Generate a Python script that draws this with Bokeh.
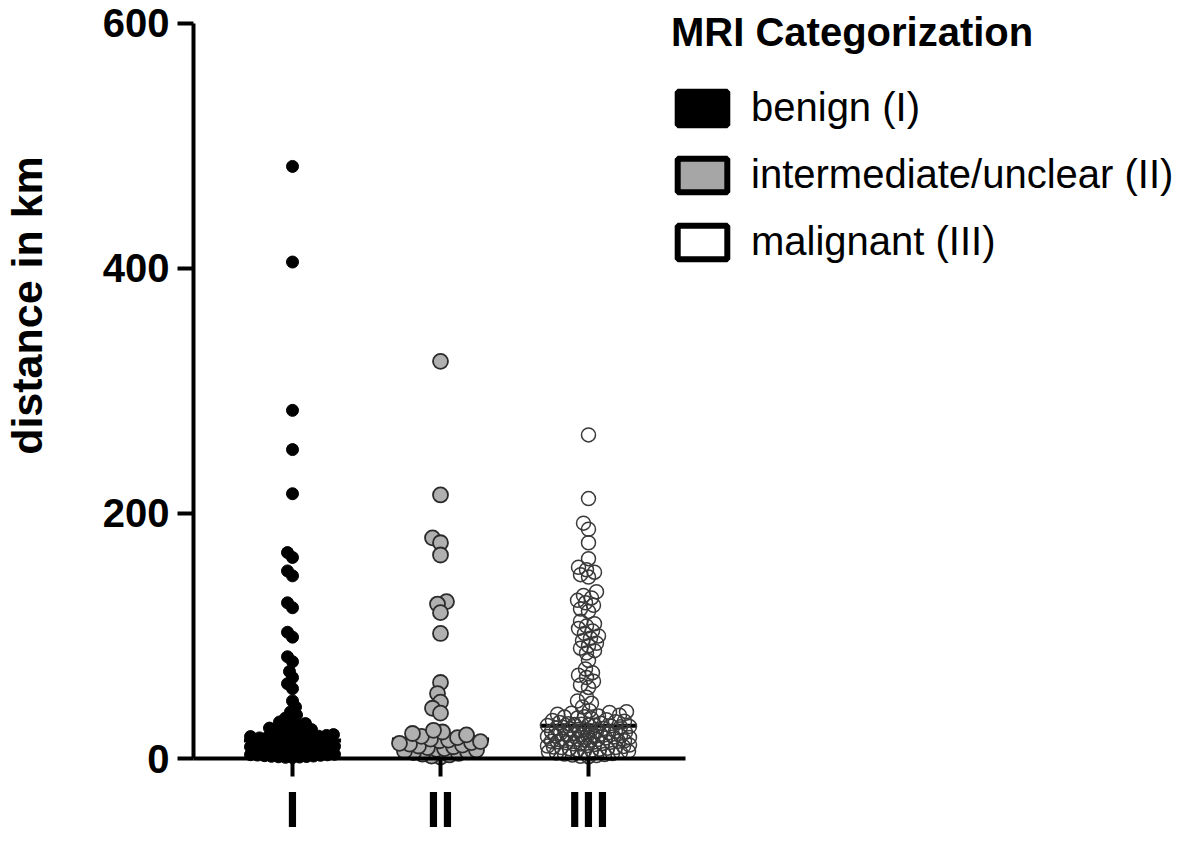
import numpy as np
from bokeh.plotting import figure
from bokeh.models import Range1d, FixedTicker, Legend, LegendItem, Label, ColumnDataSource
from bokeh.embed import file_html
from bokeh.resources import INLINE

# ---------------- data (km) ----------------
categories = ["I", "II", "III"]
legend_labels = ["benign (I)", "intermediate/unclear (II)", "malignant (III)"]

benign = [483, 405, 284, 252, 216, 168, 164, 153, 149, 127,
          123, 103, 99, 83, 79, 71, 66, 61, 57, 47,
          42, 38, 35.5, 33, 31.2, 29.8, 28.5, 27.1, 26.3, 25.4,
          24.8, 23.6, 22.9, 22.1, 21.4, 20.7, 20.1, 19.5, 18.8, 18.2,
          17.9, 17.3, 16.8, 16.4, 16.0, 15.7, 15.3, 15.0, 14.8, 14.7,
          14.5, 14.1, 13.8, 13.4, 13.0, 12.7, 12.3, 12.0, 11.6, 11.3,
          10.9, 10.6, 10.2, 9.9, 9.5, 9.2, 8.8, 8.5, 8.1, 7.8,
          7.4, 7.1, 6.9, 6.5, 6.2, 5.8, 5.5, 5.2, 4.9, 4.6,
          4.3, 4.0, 3.7, 3.4, 3.1, 2.8, 2.6, 2.3, 2.0, 1.8,
          1.6, 1.4, 1.2, 1.0, 0.8, 6.0, 8.0, 10.0, 3.0, 5.0]

intermediate = [324, 215, 180, 176, 166, 128, 126, 119, 102, 62,
                53, 46, 41, 37,
                1.2, 2.0, 2.9, 3.5, 4.1, 4.8, 5.5, 6.0, 6.8, 7.4,
                8.1, 8.9, 9.6, 10.2, 10.9, 11.7, 12.4, 13.0, 13.8, 14.5,
                15.0, 15.8, 17.0, 18.1, 19.3, 20.4, 21.6, 23.0]

malignant = [264, 212, 192, 187, 176, 163, 156, 154, 152, 150,
             148, 136, 133, 131, 129, 127, 125, 122, 120, 112,
             110, 108, 106, 104, 102, 100, 98, 96, 94, 92,
             90, 88, 86, 80, 73, 70, 68, 66, 63, 60,
             58, 50, 47, 45, 42, 39,
             38.2, 37.0, 36.1, 35.3, 34.6, 33.8, 33.0, 32.4, 31.7, 31.0,
             30.4, 29.9, 29.3, 28.8, 28.4, 28.0, 27.7, 27.4, 27.2, 27.0,
             37.5, 34.0,
             26.6, 26.2, 25.8, 25.3, 24.9, 24.5, 24.0, 23.6, 23.2, 22.7,
             22.3, 21.9, 21.4, 21.0, 20.6, 20.1, 19.7, 19.3, 18.8, 18.4,
             18.0, 17.5, 17.1, 16.7, 16.2, 15.8, 15.4, 14.9, 14.5, 14.1,
             13.6, 13.2, 12.8, 12.3, 11.9, 11.5, 11.0, 10.6, 10.2, 9.7,
             9.3, 8.9, 8.4, 8.0, 7.6, 7.1, 6.7, 6.3, 5.8, 5.4,
             5.0, 4.5, 4.1, 3.7, 3.2, 2.8, 2.4, 1.9, 1.5,
             20.0, 16.0, 12.0, 19.0, 15.0, 9.0, 22.0, 14.0, 18.5]

y_ticks = [0, 200, 400, 600]

# ---------------- layout ----------------
W, H = 1180, 841
PX_X = 148.0                    # px per category step
Y_ZERO, Y_TOP = 758.0, 22.5     # pixel rows of 0 km and 600 km
PX_Y = (Y_ZERO - Y_TOP) / 600.0
XL = 1 - 292 / PX_X
XR = XL + W / PX_X
YT = 600 + Y_TOP / PX_Y
YB = -(H - Y_ZERO) / PX_Y
AXIS_X = 1 - (292 - 193) / PX_X
AXIS_XEND = 3 + (685 - 588) / PX_X


def swarm(vals, min_dist, half_width):
    ys = np.asarray(vals, dtype=float) * PX_Y
    order = np.argsort(ys, kind="stable")
    cand = np.arange(-half_width, half_width + 0.01, 1.0)
    cand = cand[np.argsort(np.abs(cand), kind="stable")]
    px, py = [], []
    off = np.zeros(len(ys))
    for i in order:
        y = ys[i]
        x = 0.0
        if px:
            ax, ay = np.array(px), np.array(py)
            near = np.abs(ay - y) < min_dist
            if near.any():
                dx = cand[:, None] - ax[near][None, :]
                dy = (y - ay[near])[None, :]
                d = np.sqrt(dx ** 2 + dy ** 2).min(axis=1)
                ok = np.where(d >= min_dist)[0]
                x = cand[ok[0]] if len(ok) else cand[int(np.argmax(d))]
        px.append(x)
        py.append(y)
        off[i] = x
    return off / PX_X


p = figure(frame_width=W, frame_height=H,
           x_range=Range1d(XL, XR), y_range=Range1d(YB, YT),
           min_border_left=0, min_border_right=0, min_border_top=0, min_border_bottom=0,
           output_backend="svg", toolbar_location=None)
p.outline_line_color = None
p.xgrid.visible = False
p.ygrid.visible = False
p.background_fill_color = "white"
p.border_fill_color = "white"

FONT = "Liberation Sans"

# y axis
ya = p.yaxis[0]
ya.ticker = FixedTicker(ticks=y_ticks)
ya.bounds = (0, 600)
ya.fixed_location = AXIS_X
ya.axis_line_width = 4
ya.major_tick_line_width = 4
ya.major_tick_out = 16
ya.major_tick_in = 0
ya.minor_tick_line_color = None
ya.major_label_text_font = FONT
ya.major_label_text_font_style = "bold"
ya.major_label_text_font_size = "40px"
ya.major_label_text_color = "black"
ya.major_label_standoff = 8

# x axis
xa = p.xaxis[0]
xa.ticker = FixedTicker(ticks=[1, 2, 3])
xa.major_label_overrides = {1: categories[0], 2: categories[1], 3: categories[2]}
xa.bounds = (AXIS_X, AXIS_XEND)
xa.fixed_location = 0
xa.axis_line_width = 4
xa.major_tick_line_width = 4
xa.major_tick_out = 18
xa.major_tick_in = 0
xa.minor_tick_line_color = None
xa.major_label_text_font = FONT
xa.major_label_text_font_style = "bold"
xa.major_label_text_font_size = "50px"
xa.major_label_text_color = "black"
xa.major_label_standoff = 5

groups = [benign, intermediate, malignant]
styles = [
    dict(size=12, fill_color="black", line_color="black", line_width=1, fill_alpha=1.0),
    dict(size=15, fill_color="#b0b0b0", line_color="#2b2b2b", line_width=1.8, fill_alpha=1.0),
    dict(size=14, fill_color="white", line_color="#3a3a3a", line_width=1.5, fill_alpha=0.0),
]
min_d = [6.5, 9.0, 7.5]
half_w = [42, 41, 41]

# median lines (behind points)
med_src = ColumnDataSource(dict(
    x0=[i + 1 - 0.328 for i in range(3)],
    x1=[i + 1 + 0.328 for i in range(3)],
    y=[float(np.median(g)) for g in groups],
))
p.segment(x0="x0", x1="x1", y0="y", y1="y", source=med_src, line_color="black", line_width=4)

for i, (g, st) in enumerate(zip(groups, styles)):
    offs = swarm(g, min_d[i], half_w[i])
    src = ColumnDataSource(dict(x=(i + 1) + offs, y=g))
    p.scatter(x="x", y="y", source=src, marker="circle", **st)

# legend with rectangular swatches (glyphs carry no visible data)
sw_fill = ["black", "#a6a6a6", "white"]
items = []
for lab, fc in zip(legend_labels, sw_fill):
    r = p.quad(left=[np.nan], right=[np.nan], top=[np.nan], bottom=[np.nan],
               fill_color=fc, line_color="black", line_width=6)
    items.append(LegendItem(label=lab, renderers=[r]))

legend = Legend(items=items, title="MRI Categorization", location=(671, 577),
                title_text_font=FONT, title_text_font_style="bold", title_text_font_size="40px",
                title_text_color="black", title_standoff=30,
                label_text_font=FONT, label_text_font_size="40px", label_text_color="black",
                glyph_width=62, glyph_height=42, label_height=42, label_standoff=18,
                spacing=22, padding=0, margin=0, border_line_color=None,
                background_fill_alpha=0.0)
p.add_layout(legend)

# y axis title
ylab = Label(x=1 + (26 - 292) / PX_X, y=(Y_ZERO - 305) / PX_Y, text="distance in km", angle=np.pi / 2,
             text_align="center", text_baseline="middle", text_font=FONT,
             text_font_style="bold", text_font_size="43px", text_color="black")
p.add_layout(ylab)

open("out.html", "w").write(file_html(p, INLINE))
